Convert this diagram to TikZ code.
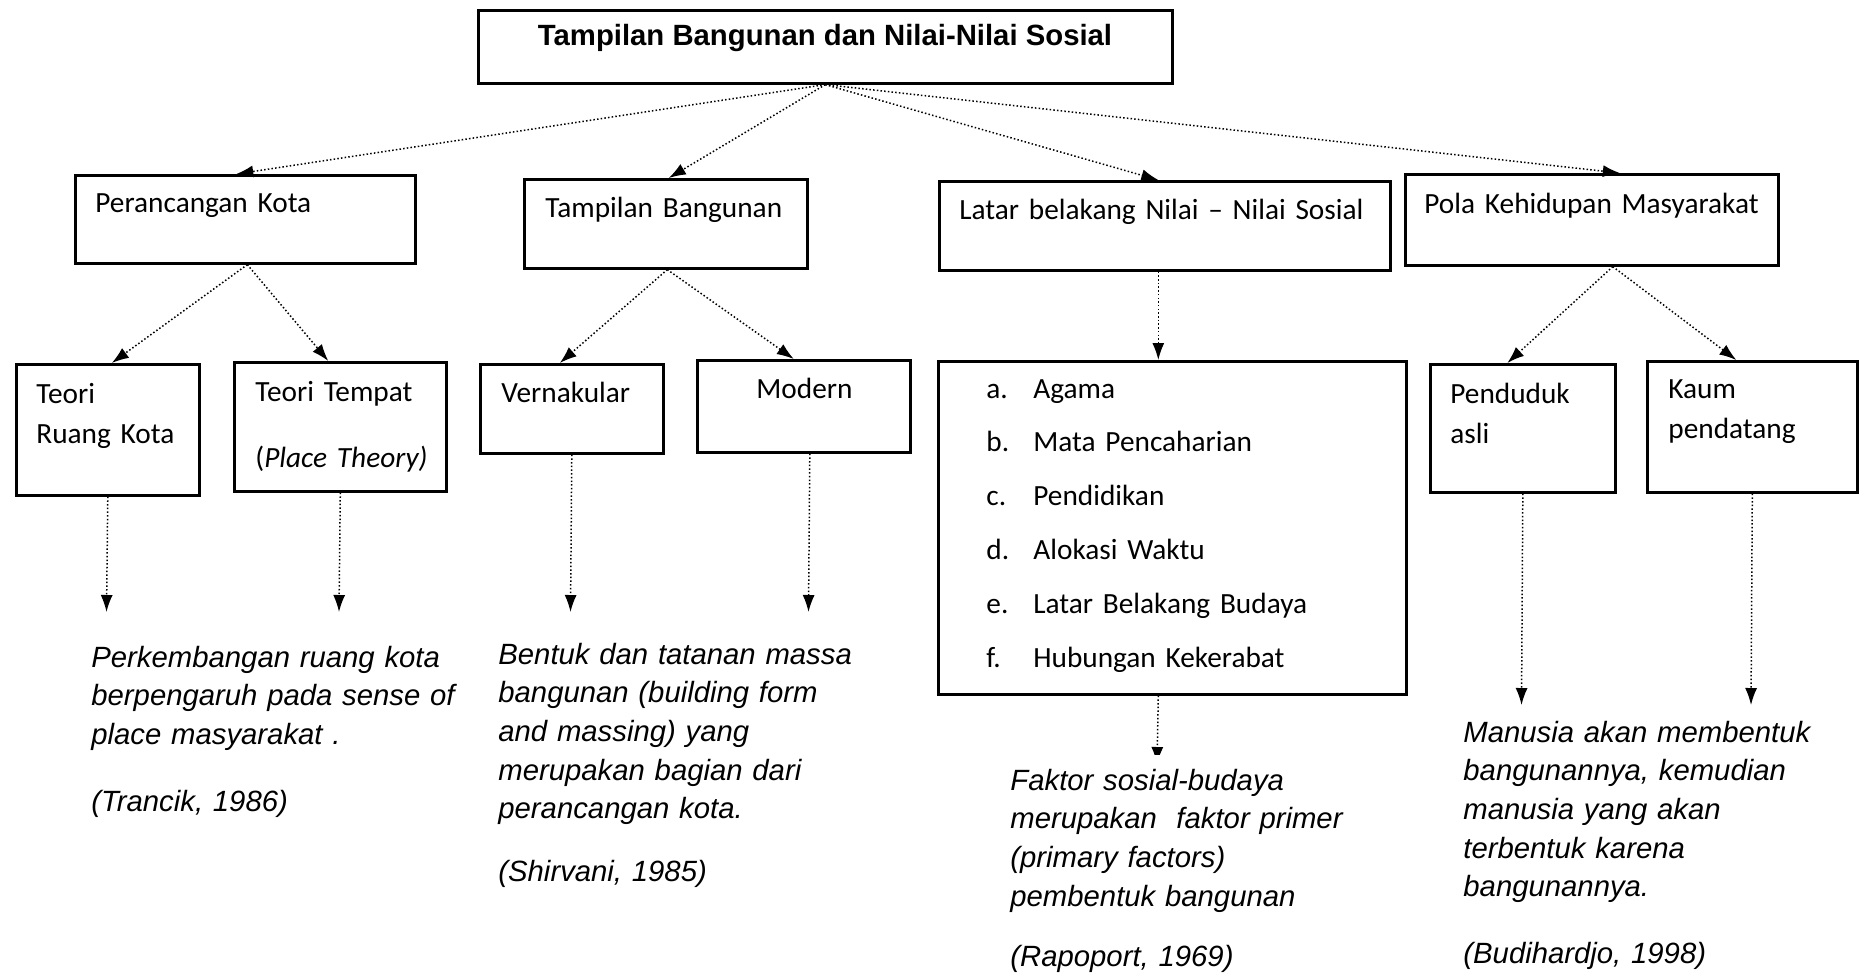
\documentclass[tikz,border=0pt]{standalone}
\usepackage{fontspec}
\setmainfont{Carlito}
\newfontfamily\arialfont{Liberation Sans}
\usetikzlibrary{arrows.meta}
\newcommand{\butir}[2]{\makebox[23.5pt][l]{#1}#2}
\begin{document}
\begin{tikzpicture}
[x=0.5pt,y=-0.5pt,
box/.style={draw,line width=1.3pt,inner sep=0pt,anchor=north west},
box text/.style={anchor=base west,inner sep=0pt,text width=#1,align=left,font=\fontsize{14.65pt}{20pt}\selectfont},
box text/.default=120pt,
quote text/.style={anchor=base west,inner sep=0pt,text width=#1,align=left,font=\arialfont\itshape\fontsize{14.65pt}{19.35pt}\selectfont},
quote text/.default=200pt,
dotted arrow/.style={line width=0.75pt,dash pattern=on 0.75pt off 1.1pt,-{Latex[length=8.5pt,width=6pt]}}]
\fill[white] (0,0) rectangle (1861,976);
\useasboundingbox (0,0) rectangle (1861,976);

\node[box,minimum width=347pt,minimum height=36.5pt] (title) at (477,9) {};
\node[anchor=base,inner sep=0pt,font=\arialfont\bfseries\fontsize{14.65pt}{18pt}\selectfont] (title text) at (825,45) {Tampilan Bangunan dan Nilai-Nilai Sosial};

\node[box,minimum width=170pt,minimum height=44pt] (kota) at (74,174) {};
\node[box text=150pt] (kota text) at (95,212) {Perancangan Kota};
\node[box,minimum width=141.5pt,minimum height=44.5pt] (tampil) at (523,178) {};
\node[box text=130pt] (tampil text) at (545,217) {Tampilan Bangunan};
\node[box,minimum width=225.5pt,minimum height=44.5pt] (latar) at (938,180) {};
\node[box text=215pt] (latar text) at (959,219) {Latar belakang Nilai -- Nilai Sosial};
\node[box,minimum width=186.5pt,minimum height=45.5pt] (pola) at (1404,173) {};
\node[box text=175pt] (pola text) at (1424,213) {Pola Kehidupan Masyarakat};

\node[box,minimum width=91.5pt,minimum height=65.5pt] (ruang) at (15,363) {};
\node[box text=80pt] (ruang text) at (36,403) {Teori\\Ruang Kota};
\node[box,minimum width=106pt,minimum height=64.5pt] (tempat) at (233,361) {};
\node[box text=100pt] (tempat text) at (255,401) {Teori Tempat\\[13pt](\textit{Place Theory)}};
\node[box,minimum width=91.5pt,minimum height=44.5pt] (vernak) at (479,363) {};
\node[box text=85pt] (vernak text) at (501,402) {Vernakular};
\node[box,minimum width=106.5pt,minimum height=46pt] (modern) at (696,359) {};
\node[box text=70pt] (modern text) at (756,398) {Modern};
\node[box,minimum width=234pt,minimum height=166.5pt] (daftar) at (937,360) {};
\node[box text=210pt,font=\fontsize{14.65pt}{26.9pt}\selectfont] (daftar text) at (986,398)
{\butir{a.}{Agama}\\\butir{b.}{Mata Pencaharian}\\\butir{c.}{Pendidikan}\\\butir{d.}{Alokasi Waktu}\\\butir{e.}{Latar Belakang Budaya}\\\butir{f.}{Hubungan Kekerabat}};
\node[box,minimum width=92.5pt,minimum height=64pt] (asli) at (1429,363) {};
\node[box text=80pt] (asli text) at (1450,403) {Penduduk\\asli};
\node[box,minimum width=105pt,minimum height=65.5pt] (datang) at (1646,360) {};
\node[box text=90pt] (datang text) at (1668,398) {Kaum\\pendatang};

\draw[dotted arrow] (title.south) -- ([xshift=-4.5pt]kota.north);
\draw[dotted arrow] (title.south) -- ([xshift=1.5pt]tampil.north);
\draw[dotted arrow] (title.south) -- ([xshift=-3.25pt]latar.north);
\draw[dotted arrow] (title.south) -- ([xshift=14pt]pola.north);

\draw[dotted arrow] ([xshift=1pt]kota.south) -- ([xshift=2pt]ruang.north);
\draw[dotted arrow] ([xshift=1pt]kota.south) -- ([xshift=-6pt]tempat.north);
\draw[dotted arrow] ([xshift=0.75pt]tampil.south) -- ([xshift=-6pt]vernak.north);
\draw[dotted arrow] ([xshift=0.75pt]tampil.south) -- ([xshift=-5pt]modern.north);
\draw[dotted arrow] ([xshift=-3.25pt]latar.south) -- ([xshift=-7pt]daftar.north);
\draw[dotted arrow] ([xshift=10.5pt]pola.south) -- ([xshift=-7.75pt]asli.north);
\draw[dotted arrow] ([xshift=10.5pt]pola.south) -- ([xshift=-8pt]datang.north);

\coordinate (ruang end) at (106.5,612);
\coordinate (tempat end) at (339,612);
\coordinate (vernak end) at (570.5,612);
\coordinate (modern end) at (808.5,612);
\coordinate (daftar end) at (1157,764);
\coordinate (asli end) at (1521.5,705);
\coordinate (datang end) at (1751,705);
\draw[dotted arrow] (ruang.south) -- (ruang end);
\draw[dotted arrow] (tempat.south) -- (tempat end);
\draw[dotted arrow] (vernak.south) -- (vernak end);
\draw[dotted arrow] ([xshift=3pt]modern.south) -- (modern end);
\draw[dotted arrow] ([xshift=-7pt]daftar.south) -- (daftar end);
\draw[dotted arrow] (asli.south) -- (asli end);
\draw[dotted arrow] (datang.south) -- (datang end);

\node[quote text] (ruang quote) at (91,667)
{Perkembangan ruang kota\\berpengaruh pada sense of\\place masyarakat .\\[14pt](Trancik, 1986)};
\node[quote text] (tampil quote) at (498,664)
{Bentuk dan tatanan massa\\bangunan (building form\\and massing) yang\\merupakan bagian dari\\perancangan kota.\\[12pt](Shirvani, 1985)};
\node[quote text=190pt,fill=white,inner ysep=7pt] (latar quote) at (1010,790)
{Faktor sosial-budaya\\merupakan~ faktor primer\\(primary factors)\\pembentuk bangunan\\[11pt](Rapoport, 1969)};
\node[quote text=195pt] (pola quote) at (1463,742)
{Manusia akan membentuk\\bangunannya, kemudian\\manusia yang akan\\terbentuk karena\\bangunannya.\\[14pt](Budihardjo, 1998)};
\end{tikzpicture}
\end{document}
